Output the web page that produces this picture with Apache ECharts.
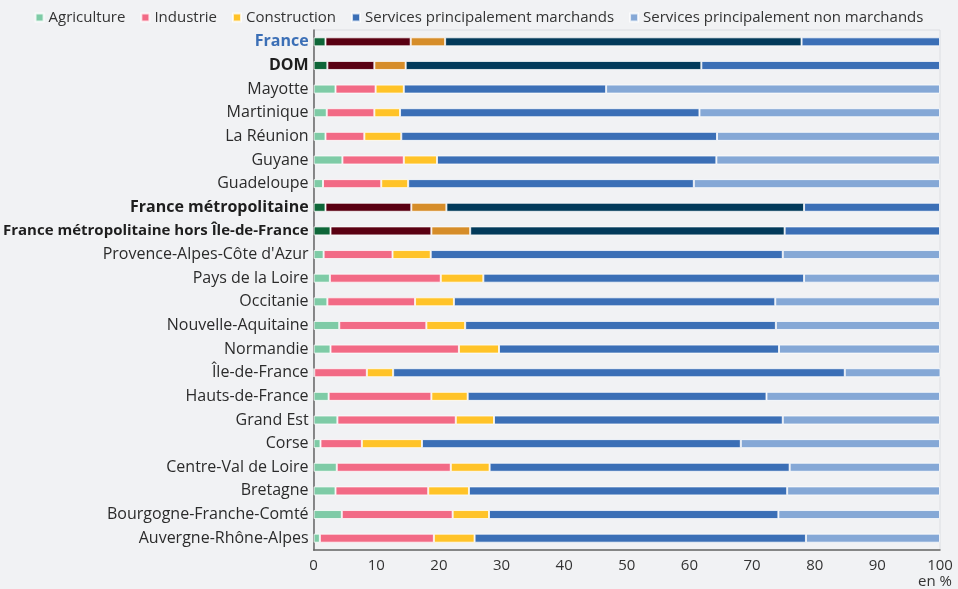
<!DOCTYPE html>
<html>
<head>
<meta charset="utf-8">
<script src="https://cdn.jsdelivr.net/npm/echarts@6/dist/echarts.min.js"></script>
<style>
  html, body { margin: 0; padding: 0; background: #f1f2f4; }
  #chart { width: 958px; height: 589px; }
</style>
</head>
<body>
<div id="chart"></div>
<script>
// régions, de haut en bas
var regions = ['France', 'DOM', 'Mayotte', 'Martinique', 'La Réunion', 'Guyane', 'Guadeloupe',
  'France métropolitaine', 'France métropolitaine hors Île-de-France', "Provence-Alpes-Côte d'Azur",
  'Pays de la Loire', 'Occitanie', 'Nouvelle-Aquitaine', 'Normandie', 'Île-de-France',
  'Hauts-de-France', 'Grand Est', 'Corse', 'Centre-Val de Loire', 'Bretagne',
  'Bourgogne-Franche-Comté', 'Auvergne-Rhône-Alpes'];

var agriculture = [1.9, 2.2, 3.5, 2.1, 1.9, 4.6, 1.5, 1.9, 2.7, 1.6, 2.6, 2.2, 4.1, 2.7, 0.1, 2.4, 3.8, 1.1, 3.7, 3.5, 4.5, 1.0];
var industrie = [13.6, 7.5, 6.4, 7.6, 6.2, 9.8, 9.3, 13.7, 16.1, 11.0, 17.7, 14.0, 13.9, 20.5, 8.4, 16.4, 18.9, 6.6, 18.2, 14.8, 17.7, 18.2];
var construction = [5.5, 5.0, 4.5, 4.1, 5.9, 5.3, 4.3, 5.6, 6.2, 6.1, 6.8, 6.2, 6.2, 6.4, 4.2, 5.8, 6.1, 9.6, 6.2, 6.5, 5.8, 6.5];
var marchands = [56.9, 47.2, 32.3, 47.8, 50.4, 44.6, 45.6, 57.1, 50.2, 56.2, 51.2, 51.3, 49.6, 44.7, 72.1, 47.7, 46.1, 50.9, 47.9, 50.8, 46.2, 52.9];
var nonMarchands = [22.1, 38.1, 53.3, 38.4, 35.6, 35.7, 39.3, 21.7, 24.8, 25.1, 21.7, 26.3, 26.2, 25.7, 15.3, 27.7, 25.1, 31.8, 24.0, 24.4, 25.8, 21.4];

var xTicks = [0, 10, 20, 30, 40, 50, 60, 70, 80, 90, 100];

// lignes agrégées (couleurs foncées, libellé en gras)
var aggregates = ['France', 'DOM', 'France métropolitaine', 'France métropolitaine hors Île-de-France'];

var seriesDefs = [
  { name: 'Agriculture', data: agriculture, color: '#7ecba6', dark: '#0e6638' },
  { name: 'Industrie', data: industrie, color: '#f26a85', dark: '#5a0012' },
  { name: 'Construction', data: construction, color: '#ffc328', dark: '#d68d29' },
  { name: 'Services principalement marchands', data: marchands, color: '#3b6fb6', dark: '#023a5a' },
  { name: 'Services principalement non marchands', data: nonMarchands, color: '#85a8d6', dark: '#3b6fb6' }
];

var chart = echarts.init(document.getElementById('chart'));

var series = seriesDefs.map(function (s) {
  return {
    name: s.name,
    type: 'bar',
    stack: 'total',
    barWidth: 9,
    itemStyle: { color: s.color, borderColor: 'rgba(255,255,255,0.75)', borderWidth: 1 },
    data: s.data.map(function (v, i) {
      if (aggregates.indexOf(regions[i]) >= 0) {
        return { value: v, itemStyle: { color: s.dark } };
      }
      return v;
    })
  };
});

var option = {
  backgroundColor: '#f1f2f4',
  textStyle: { fontFamily: 'Open Sans' },
  animation: false,
  legend: {
    top: 5,
    left: 'center',
    icon: 'rect',
    itemWidth: 8,
    itemHeight: 8,
    itemGap: 15,
    textStyle: { fontSize: 15, color: '#333', fontFamily: 'Open Sans' },
    data: seriesDefs.map(function (s) { return s.name; })
  },
  grid: {
    left: 313, right: 18, top: 30, bottom: 39,
    show: true, borderColor: '#dcdee2', borderWidth: 1
  },
  xAxis: {
    type: 'value',
    min: 0, max: 100, interval: 10,
    axisLine: { show: true, lineStyle: { color: '#666', width: 1.5 } },
    axisTick: { show: false },
    splitLine: { show: false },
    axisLabel: { fontSize: 15, color: '#333', margin: 8 }
  },
  yAxis: {
    type: 'category',
    inverse: true,
    data: regions,
    axisLine: { show: true, lineStyle: { color: '#666', width: 1.5 } },
    axisTick: { show: false },
    axisLabel: {
      fontSize: 16, color: '#2b2b2b', margin: 5,
      formatter: function (v) {
        if (v === 'France') return '{fr|' + v + '}';
        if (v.length > 30) return '{bs|' + v + '}';
        if (aggregates.indexOf(v) >= 0) return '{b|' + v + '}';
        return v;
      },
      rich: {
        fr: { fontSize: 16, fontWeight: 'bold', color: '#3b6fb6', fontFamily: 'Open Sans' },
        b: { fontSize: 16, fontWeight: 'bold', color: '#1e1e1e', fontFamily: 'Open Sans' },
        bs: { fontSize: 15, fontWeight: 'bold', color: '#1e1e1e', fontFamily: 'Open Sans' }
      }
    }
  },
  graphic: [{
    type: 'text', right: 6, top: 574,
    style: { text: 'en %', fontSize: 15, fill: '#333', fontFamily: 'Open Sans' }
  }],
  series: series
};

chart.setOption(option);
</script>
</body>
</html>
